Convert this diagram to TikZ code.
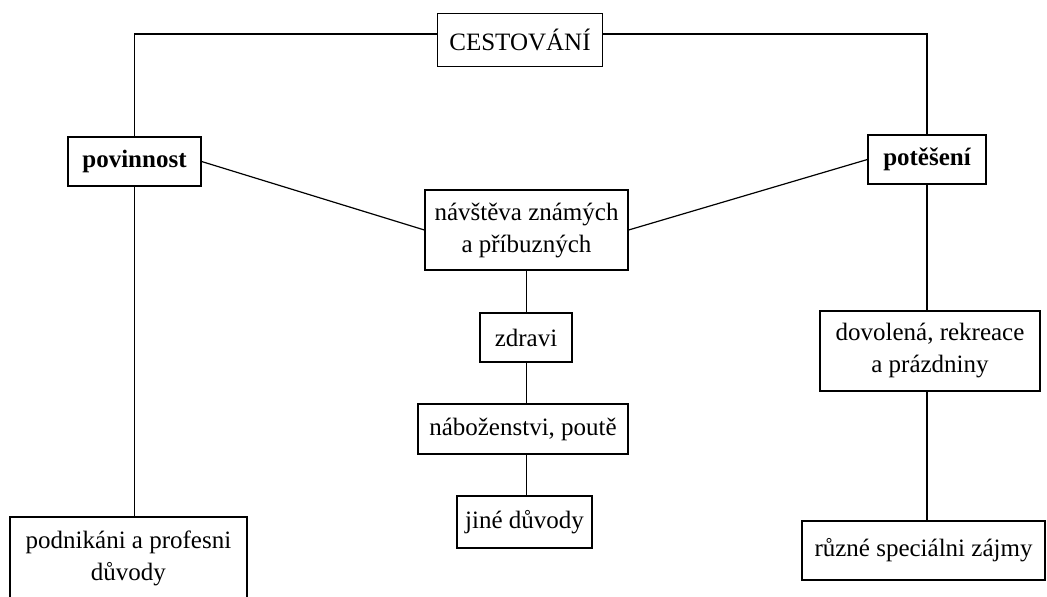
\documentclass[tikz,border=0pt]{standalone}
\usepackage{fontspec}
\setmainfont{Liberation Serif}

\tikzset{
	boite/.style={draw, line width=1.2pt, align=center, inner sep=0pt,
		font=\fontsize{25pt}{32pt}\selectfont},
	lien/.style={line width=1.2pt}
}

\begin{document}
\begin{tikzpicture}[x=1pt, y=-1pt]
	\useasboundingbox (0,0) rectangle (1047,597);

	% racine
	\node[boite, minimum width=165pt, minimum height=53pt] (cest) at (520,40) {CESTOVÁNÍ};

	% branches
	\node[boite, minimum width=133pt, minimum height=49pt, font=\fontsize{25pt}{32pt}\selectfont\bfseries] (pov) at (134.5,161.5) {povinnost};
	\node[boite, minimum width=118pt, minimum height=49pt, font=\fontsize{25pt}{32pt}\selectfont\bfseries] (pot) at (927,159.5) {potěšení};

	% milieu
	\node[boite, minimum width=203pt, minimum height=80pt] (navs) at (526.5,230) {návštěva známých\\a příbuzných};
	\node[boite, minimum width=92pt, minimum height=49pt] (zdr) at (526,337.5) {zdravi};
	\node[boite, minimum width=210pt, minimum height=50pt] (nab) at (523,429) {náboženstvi, poutě};
	\node[boite, minimum width=135pt, minimum height=52pt] (jine) at (524.5,522) {jiné důvody};

	% feuilles
	\node[boite, minimum width=237pt, minimum height=82pt] (podn) at (128.5,558) {podnikáni a profesni\\důvody};
	\node[boite, minimum width=220pt, minimum height=80pt] (dov) at (930,351) {dovolená, rekreace\\a prázdniny};
	\node[boite, minimum width=243pt, minimum height=59pt] (ruz) at (923.5,550.5) {různé speciálni zájmy};

	% liens
	\draw[lien] ([yshift=6pt]cest.west) -| (pov.north);
	\draw[lien] ([yshift=6pt]cest.east) -| (pot.north);
	\draw[lien] (pov.east) -- (navs.west);
	\draw[lien] (pot.west) -- (navs.east);
	\draw[lien] (pov.south) -- (pov.south |- podn.north);
	\draw[lien] (pot.south) -- (pot.south |- dov.north);
	\draw[lien] (pot.south |- dov.south) -- (pot.south |- ruz.north);
	\draw[lien] (navs.south) -- (navs.south |- zdr.north);
	\draw[lien] (navs.south |- zdr.south) -- (navs.south |- nab.north);
	\draw[lien] (navs.south |- nab.south) -- (navs.south |- jine.north);
\end{tikzpicture}
\end{document}
